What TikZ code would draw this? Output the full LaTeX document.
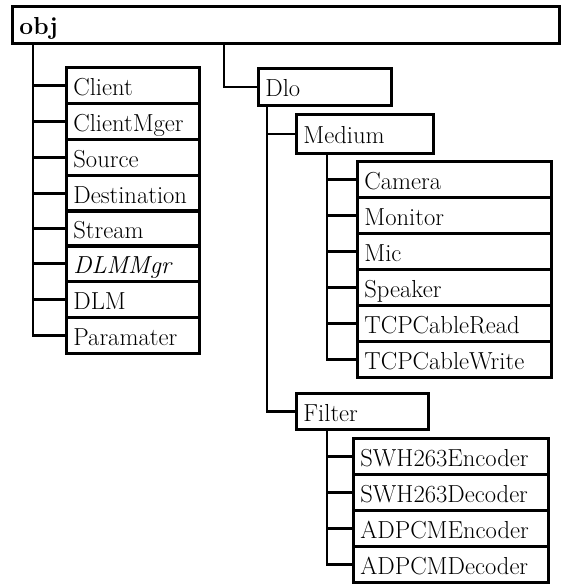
\documentclass[tikz,border=0pt]{standalone}
\usepackage{fontspec}
\begin{document}
\begin{tikzpicture}[x=1pt,y=-1pt,
  box/.style={draw, line width=2.8pt, anchor=north west, inner xsep=7pt, inner ysep=0pt,
    minimum height=36pt, text height=22pt, text depth=2pt, align=left, text width=#1,
    font=\fontsize{24.6}{28}\selectfont},
  conn/.style={line width=2.8pt}]
\useasboundingbox (0,0) rectangle (568,584);
% root
\node[box=533pt, minimum height=37pt] (obj) at (11,5) {\textbf{obj}};
% left column
\node[box=119pt] (client) at (65,66) {Client};
\node[box=119pt] (clientmger) at (65,102) {ClientMger};
\node[box=119pt] (source) at (65,138) {Source};
\node[box=119pt] (destination) at (65,174) {Destination};
\node[box=119pt] (stream) at (65,209) {Stream};
\node[box=119pt] (dlmmgr) at (65,244) {\itshape DLMMgr};
\node[box=119pt] (dlm) at (65,280) {DLM};
\node[box=119pt] (paramater) at (65,316) {Paramater};
% Dlo branch
\node[box=119pt, minimum height=37pt] (dlo) at (257,67) {Dlo};
\node[box=123pt, minimum height=39pt] (medium) at (295,113) {Medium};
\node[box=180pt] (camera) at (356,160) {Camera};
\node[box=180pt] (monitor) at (356,196) {Monitor};
\node[box=180pt] (mic) at (356,232) {Mic};
\node[box=180pt] (speaker) at (356,268) {Speaker};
\node[box=180pt] (tcpread) at (356,304) {TCPCableRead};
\node[box=180pt] (tcpwrite) at (356,340) {TCPCableWrite};
\node[box=118pt] (filter) at (295,392) {Filter};
\node[box=181pt] (swhenc) at (352,437) {SWH263Encoder};
\node[box=181pt] (swhdec) at (352,473) {SWH263Decoder};
\node[box=181pt] (adpenc) at (352,509) {ADPCMEncoder};
\node[box=181pt] (adpdec) at (352,545) {ADPCMDecoder};
% connectors
\foreach \n in {client,clientmger,source,destination,stream,dlmmgr,dlm,paramater}
  \draw[conn] ([xshift=22pt]obj.south west) |- (\n.west);
\draw[conn] ([xshift=213pt]obj.south west) |- (dlo.west);
\foreach \n in {medium,filter}
  \draw[conn] ([xshift=10pt]dlo.south west) |- (\n.west);
\foreach \n in {camera,monitor,mic,speaker,tcpread,tcpwrite}
  \draw[conn] ([xshift=32pt]medium.south west) |- (\n.west);
\foreach \n in {swhenc,swhdec,adpenc,adpdec}
  \draw[conn] ([xshift=32pt]filter.south west) |- (\n.west);
\end{tikzpicture}
\end{document}
